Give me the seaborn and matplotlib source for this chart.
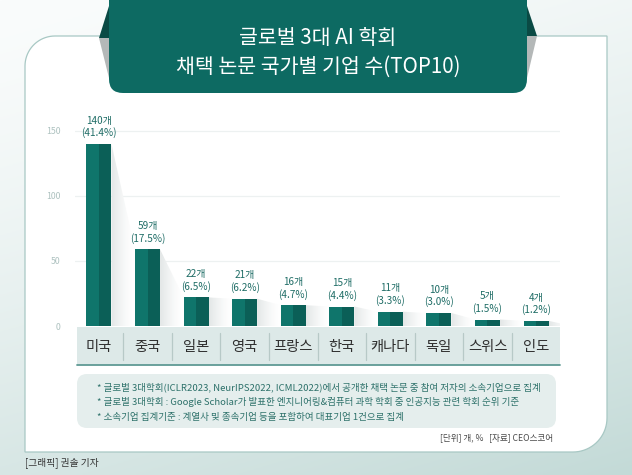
import numpy as np
import pandas as pd
import matplotlib
matplotlib.use("Agg")
import matplotlib.pyplot as plt
import seaborn as sns
from matplotlib.patches import FancyBboxPatch, Polygon
from matplotlib.transforms import blended_transform_factory

# ---------------- data ----------------
countries = ["미국", "중국", "일본", "영국", "프랑스", "한국", "캐나다", "독일", "스위스", "인도"]
counts = [140, 59, 22, 21, 16, 15, 11, 10, 5, 4]
shares = [41.4, 17.5, 6.5, 6.2, 4.7, 4.4, 3.3, 3.0, 1.5, 1.2]
yticks = [0, 50, 100, 150]
title_lines = ["글로벌 3대 AI 학회", "채택 논문 국가별 기업 수(TOP10)"]
notes = [
    "* 글로벌 3대학회(ICLR2023, NeurIPS2022, ICML2022)에서 공개한 채택 논문 중 참여 저자의 소속기업으로 집계",
    "* 글로벌 3대학회 : Google Scholar가 발표한 엔지니어링&컴퓨터 과학 학회 중 인공지능 관련 학회 순위 기준",
    "* 소속기업 집계기준 : 계열사 및 종속기업 등을 포함하여 대표기업 1건으로 집계",
]
source_text = "[단위] 개, %   [자료] CEO스코어"
credit_text = "[그래픽] 권솔 기자"

df = pd.DataFrame({"country": countries, "count": counts, "share": shares})

# ---------------- style ----------------
sns.set_style("white")
plt.rcParams["font.family"] = ["Noto Sans CJK KR", "DejaVu Sans"]

TEAL = "#0f756b"
TEAL_DARK = "#0b5f57"
BANNER = "#0d6a62"
LABEL = "#1f6d66"

W, H = 632, 475
fig = plt.figure(figsize=(W / 100, H / 100), dpi=100)

# background axes in pixel coordinates
bg = fig.add_axes([0, 0, 1, 1])
bg.set_xlim(0, W)
bg.set_ylim(H, 0)
bg.axis("off")

yy, xx = np.mgrid[0:1:200j, 0:1:200j]
t = np.clip(0.72 * yy + 0.28 * xx, 0, 1) ** 1.4
c0 = np.array(matplotlib.colors.to_rgb("#fafcfc"))
c1 = np.array(matplotlib.colors.to_rgb("#c3dad7"))
grad = c0[None, None, :] * (1 - t[..., None]) + c1[None, None, :] * t[..., None]
bg.imshow(grad, extent=[0, W, H, 0], aspect="auto", zorder=0)

# white card: rounded top-left and bottom-right
L, R, T, B = 25, 607, 36, 452
r1, r2 = 30, 34
pts = []
a = np.linspace(np.pi, 1.5 * np.pi, 20)
pts += [(L + r1 + r1 * np.cos(v), T + r1 + r1 * np.sin(v)) for v in a]
pts += [(R, T)]
a = np.linspace(0, 0.5 * np.pi, 20)
pts += [(R - r2 + r2 * np.cos(v), B - r2 + r2 * np.sin(v)) for v in a]
pts += [(L, B)]
card = Polygon(pts, closed=True, facecolor="white", edgecolor="#a8c8c4", lw=0.9, zorder=1)
bg.add_patch(card)

# title banner with folds
bg.add_patch(Polygon([(109, 6), (99, 38), (109, 38)], closed=True, facecolor="#0a4a44", lw=0, zorder=2))
bg.add_patch(Polygon([(99, 38), (109, 38), (109, 78)], closed=True, facecolor="#b4b8b8", lw=0, zorder=2))
bg.add_patch(Polygon([(527, 6), (537, 36), (527, 36)], closed=True, facecolor="#0a4a44", lw=0, zorder=2))
bg.add_patch(Polygon([(527, 36), (537, 36), (527, 78)], closed=True, facecolor="#b4b8b8", lw=0, zorder=2))
banner = FancyBboxPatch((109 + 14, -30 + 14), 527 - 109 - 28, 93 + 30 - 28,
                        boxstyle="round,pad=14", facecolor=BANNER, edgecolor="none", zorder=3)
bg.add_patch(banner)
bg.text(318, 38, title_lines[0], color="white", fontsize=14.8, ha="center", va="center", zorder=4)
bg.text(318, 67, title_lines[1], color="white", fontsize=14.8, ha="center", va="center", zorder=4)

# category band
bg.add_patch(plt.Rectangle((77, 327), 560 - 77, 38, facecolor="#dde9e8", edgecolor="none", zorder=2))
bg.plot([77, 560], [365, 365], color="#5f9a94", lw=1.3, zorder=3)

# notes box
bg.add_patch(FancyBboxPatch((77 + 10, 374 + 10), 556 - 77 - 20, 428 - 374 - 20,
                            boxstyle="round,pad=10", facecolor="#e5eeed", edgecolor="none", zorder=2))
for i, line in enumerate(notes):
    bg.text(97, 387 + 15 * i, line, color="#2d716a", fontsize=6.85, ha="left", va="center", zorder=3)

bg.text(553, 438, source_text, color="#4a4a4a", fontsize=6.2, ha="right", va="center", zorder=3)
bg.text(25, 463, credit_text, color="#333333", fontsize=7, ha="left", va="center", zorder=3)

# ---------------- chart axes ----------------
ax_left, ax_right = 74.7, 560.3
ax_top, ax_bot = 118, 326
ax = fig.add_axes([ax_left / W, (H - ax_bot) / H, (ax_right - ax_left) / W, (ax_bot - ax_top) / H])
ax.set_facecolor("none")
ax.patch.set_alpha(0)

bw = 0.515
sns.barplot(data=df, x="country", y="count", color=TEAL, saturation=1, width=bw, ax=ax,
            linewidth=0, edgecolor="none", zorder=3)
xs = np.arange(len(countries))
ax.bar(xs + bw / 4, df["count"], width=bw / 2, color=TEAL_DARK, lw=0, edgecolor="none", zorder=3)

ax.set_xlim(-0.5, len(countries) - 0.5)
ax.set_ylim(0, 160)

# shadows
shade = np.linspace(1, 0, 64)[None, :] ** 1.5
cmap = matplotlib.colors.LinearSegmentedColormap.from_list("sh", ["#ffffff", "#e3e7e7"])
for i in range(len(counts)):
    x0 = i + bw / 2
    x1 = i + 1 - bw / 2
    v0 = counts[i]
    v1 = counts[i + 1] if i + 1 < len(counts) else 0
    poly = Polygon([(x0, v0), (x1, v1), (x1, 0), (x0, 0)], closed=True, facecolor="none", edgecolor="none")
    ax.add_patch(poly)
    im = ax.imshow(shade, extent=[x0, x1, 0, v0], aspect="auto", cmap=cmap, vmin=0, vmax=1, zorder=2)
    im.set_clip_path(poly)
ax.set_xlim(-0.5, len(countries) - 0.5)
ax.set_ylim(0, 160)

# grid
for y in yticks[1:]:
    ax.axhline(y, color="#edf1f1", lw=0.9, zorder=1)
ax.set_yticks(yticks)
ax.set_yticklabels([str(v) for v in yticks], color="#aec2c0", fontsize=6.3)
ax.tick_params(axis="y", length=0, pad=10)
ax.tick_params(axis="x", length=0)
ax.set_xticklabels([])
ax.set_xlabel("")
ax.set_ylabel("")
for s in ax.spines.values():
    s.set_visible(False)

# value labels
for i, (c, p) in enumerate(zip(counts, shares)):
    ax.annotate(f"{c}개\n({p:.1f}%)", xy=(i, c), xytext=(0, 4), textcoords="offset points",
                ha="center", va="bottom", fontsize=7.2, color=LABEL, linespacing=1.2, zorder=5)

# category labels and separators in band
tr = blended_transform_factory(ax.transData, bg.transData)
for i, name in enumerate(countries):
    bg.text(i, 347, name, transform=tr, ha="center", va="center", fontsize=10.3, color="#2e2e2e", zorder=4)
for i in range(len(countries) - 1):
    bg.plot([i + 0.5, i + 0.5], [333, 360], transform=tr, color="#b7c9c7", lw=0.9, zorder=4)

fig.savefig("out.png", dpi=100)
